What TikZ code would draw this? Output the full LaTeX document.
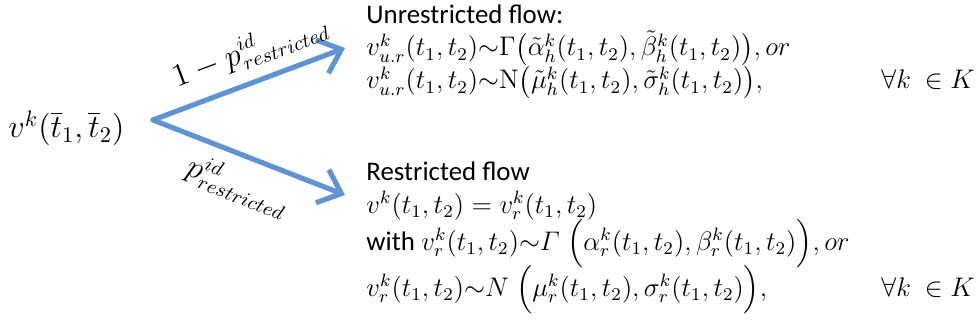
\documentclass[tikz,border=0pt]{standalone}
\usepackage{amsmath}
\usepackage[no-math]{fontspec}
\setmainfont{Carlito}
\usetikzlibrary{arrows.meta}
\DeclareMathSizes{12.8}{12.8}{8}{6}
\definecolor{flowblue}{RGB}{94,148,208}
\begin{document}
\begin{tikzpicture}[x=0.0157cm, y=-0.0157cm, every node/.style={font=\fontsize{12}{14}\selectfont, inner sep=0pt},
  line/.style={anchor=base west, font=\fontsize{12.8}{15}\selectfont},
  lab/.style={font=\fontsize{13.5}{16}\selectfont},
  flow/.style={draw=flowblue, line width=2.3pt, line cap=round, line join=round,
    -{Straight Barb[length=3.2mm,width=5.6mm]}}]
\useasboundingbox (0,0) rectangle (978,332);
\node[line, font=\fontsize{14.8}{17}\selectfont] (src) at (8,138) {$v^k(\overline{t}_1,\overline{t}_2)$};
\coordinate (fork) at (153,120);
\coordinate (upTip) at (345,48);
\coordinate (loTip) at (345,195);
\draw[flow] (fork) -- (upTip) node[lab, pos=0.56, sloped, above=5pt] (upLab) {$1-p^{id}_{restricted}$};
\draw[flow] (fork) -- (loTip) node[lab, pos=0.5, sloped, below=5pt] (loLab) {$p^{id}_{restricted}$};
% unrestricted
\node[anchor=base west] (uTitle) at (366,24) {Unrestricted flow:};
\node[line] (uGam) at (366,56) {$v^k_{u.r}(t_1,t_2){\sim}\Gamma\big(\tilde\alpha^k_h(t_1,t_2),\tilde\beta^k_h(t_1,t_2)\big), or$};
\node[line] (uNor) at (366,89) {$v^k_{u.r}(t_1,t_2){\sim}\mathrm{N}\big(\tilde\mu^k_h(t_1,t_2),\tilde\sigma^k_h(t_1,t_2)\big),$};
\node[line, anchor=base east] (uAll) at (975,89) {$\forall k\ \in K$};
% restricted
\node[anchor=base west] (rTitle) at (366,181) {Restricted flow};
\node[line] (rEq) at (366,213) {$v^k(t_1,t_2)=v^k_r(t_1,t_2)$};
\node[line] (rGam) at (366,250) {{\fontsize{12}{14}\selectfont with} $v^k_r(t_1,t_2){\sim}\varGamma\;\Big(\alpha^k_r(t_1,t_2),\beta^k_r(t_1,t_2)\Big), or$};
\node[line] (rNor) at (366,296) {$v^k_r(t_1,t_2){\sim}N\;\Big(\mu^k_r(t_1,t_2),\sigma^k_r(t_1,t_2)\Big),$};
\node[line, anchor=base east] (rAll) at (975,296) {$\forall k\ \in K$};
\end{tikzpicture}
\end{document}
